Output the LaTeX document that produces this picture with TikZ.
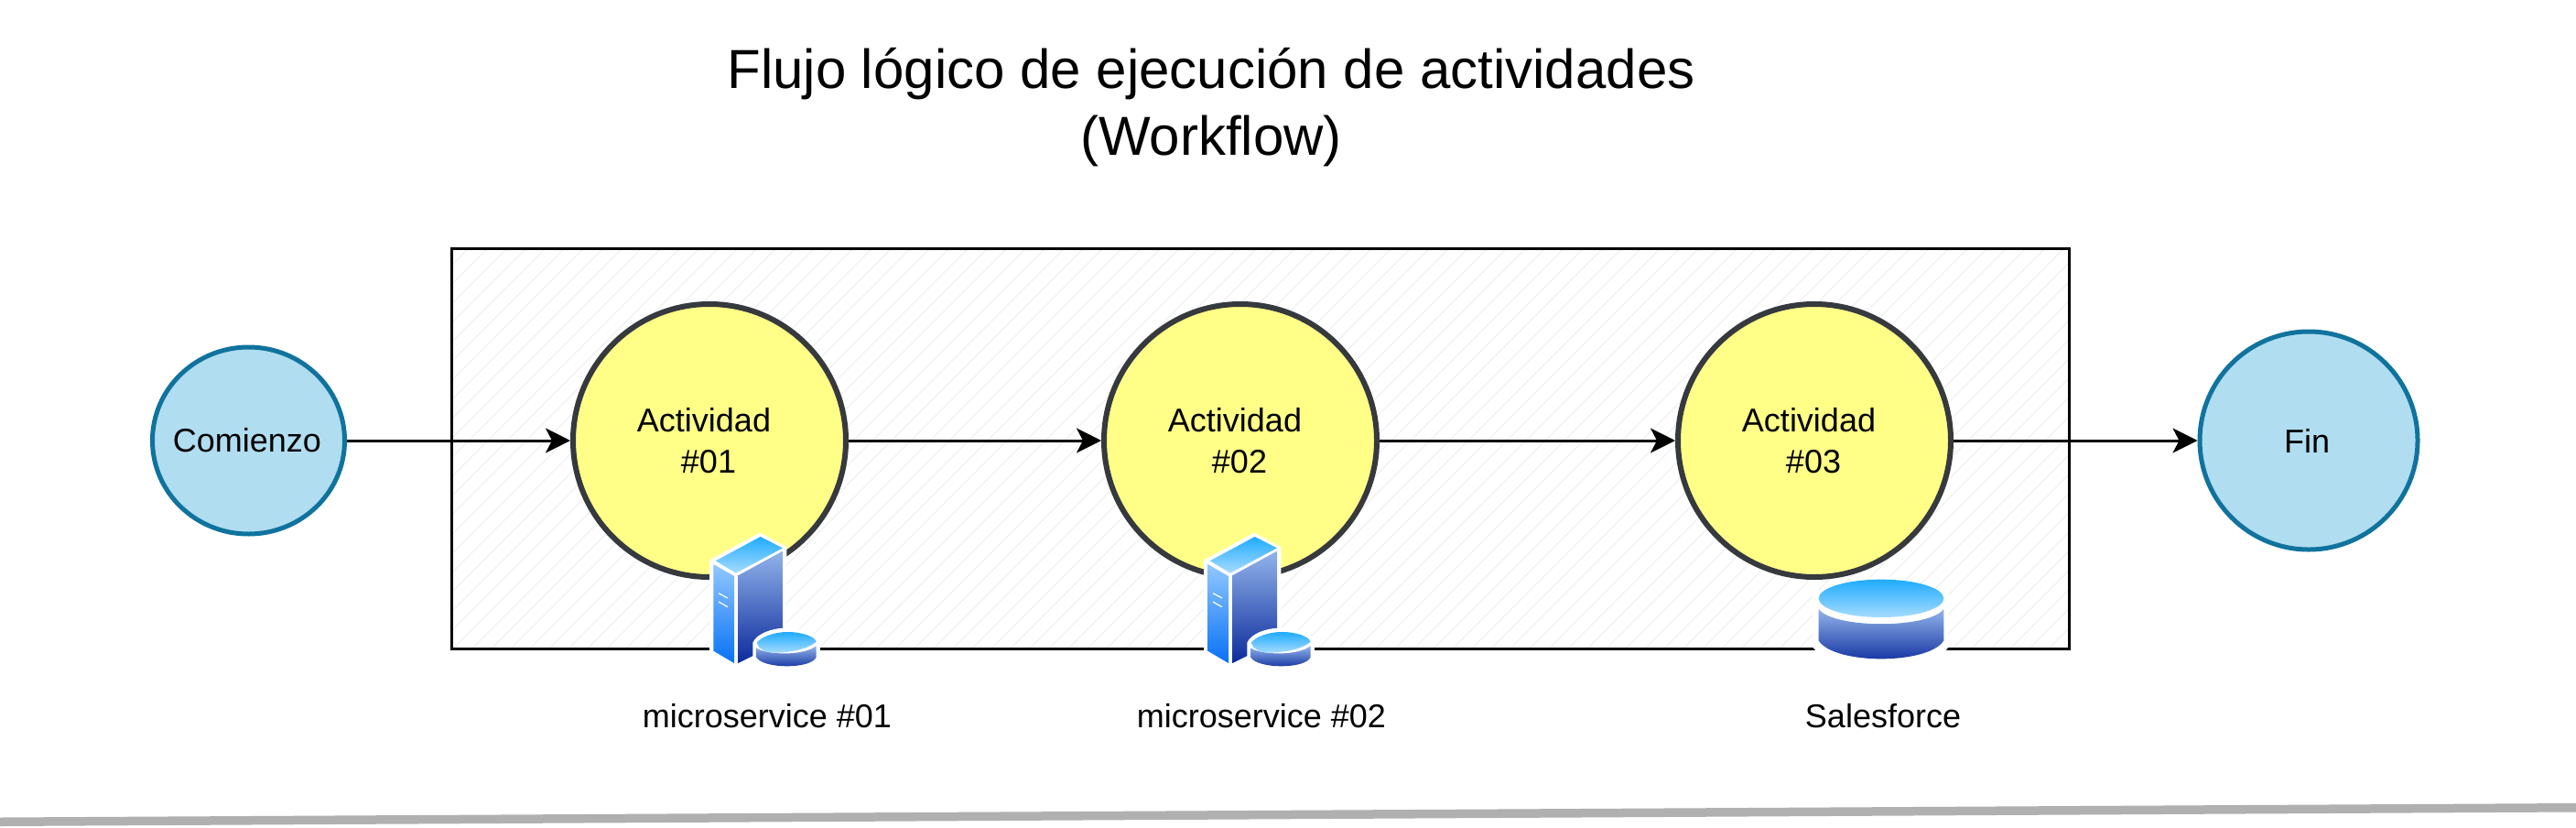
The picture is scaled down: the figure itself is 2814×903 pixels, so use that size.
\documentclass[tikz,border=0pt]{standalone}
\usepackage{fontspec}
\setmainfont{Liberation Sans}
\usetikzlibrary{arrows.meta,shapes.geometric}
\definecolor{actfill}{HTML}{FFFF88}
\definecolor{actline}{HTML}{36393D}
\definecolor{endfill}{HTML}{B1DDF0}
\definecolor{endline}{HTML}{10739E}
\definecolor{hatchc}{HTML}{EDEDED}
\definecolor{skyA}{HTML}{20ABFF}
\definecolor{skyB}{HTML}{A5DCFF}
\definecolor{navA}{HTML}{92B4EA}
\definecolor{navB}{HTML}{0B2A9C}
\definecolor{leftA}{HTML}{92C8FF}
\definecolor{leftB}{HTML}{0871F5}
\tikzset{
  actcircle/.style={circle,draw=actline,fill=actfill,line width=6pt,minimum size=298pt,inner sep=0pt},
  endcircle/.style={ellipse,draw=endline,fill=endfill,line width=5pt,inner sep=0pt},
  flow/.style={draw=black,line width=3pt,-{Stealth[length=27pt,width=27pt,inset=7pt]}},
  lbl/.style={font=\fontsize{36}{45}\selectfont,text=black,inner sep=0pt,align=center},
}
\newcommand{\servericon}[2]{%
\begin{scope}[shift={(#1,#2)},x=0.3333pt,y=-0.3333pt]
  \fill[white] (165,155) -- (330,65) -- (418,112) -- (418,378) -- (528,410) -- (528,500) -- (320,505) -- (300,490) -- (250,505) -- (165,458) -- cycle;
  \shade[top color=skyA,bottom color=skyB] (185,157) -- (332,78) -- (405,115) -- (252,197) -- cycle;
  \shade[top color=leftA,bottom color=leftB] (178,168) -- (246,207) -- (246,492) -- (178,452) -- cycle;
  \shade[top color=navA,bottom color=navB] (259,205) -- (405,125) -- (405,420) -- (259,492) -- cycle;
  \draw[white,line width=1.2pt] (195,263) -- (225,279) (195,291) -- (225,308);
  \fill[white] (307,425) .. controls (320,395) and (370,377) .. (417,377) .. controls (480,377) and (530,400) .. (528,430) -- (528,470) -- (515,500) -- (320,500) -- (307,470) -- cycle;
  \shade[top color=navA,bottom color=navB] (318,442) .. controls (350,465) and (470,470) .. (515,436) -- (515,472) .. controls (500,512) and (340,512) .. (318,472) -- cycle;
  \shade[top color=skyA,bottom color=skyB] (320,425) .. controls (335,405) and (380,390) .. (420,390) .. controls (470,390) and (510,405) .. (515,422) .. controls (490,445) and (430,458) .. (380,458) .. controls (350,458) and (325,445) .. (320,425) -- cycle;
\end{scope}}
\begin{document}
\begin{tikzpicture}[x=1pt,y=-1pt]
\useasboundingbox (0,0) rectangle (2814,903);
\fill[white] (0,0) rectangle (2814,903);
% group box
\begin{scope}
  \clip (493,271) rectangle (2261,709);
  \foreach \k in {0,...,125} {
    \draw[hatchc,line width=1pt] (493+\k*21-440,709) -- (493+\k*21,269);
  }
\end{scope}
\node[draw=black,line width=3pt,minimum width=1767pt,minimum height=437pt,inner sep=0pt] (group) at (1377,490) {};
% title
\node[align=center,font=\fontsize{60}{73}\selectfont,text=black,inner sep=0pt] (title) at (1323,117.5) {Flujo lógico de ejecución de actividades\\(Workflow)};
% nodes
\node[endcircle,minimum width=210pt,minimum height=204pt] (start) at (271.5,481) {};
\node[actcircle] (a1) at (775,481) {};
\node[actcircle] (a2) at (1355,481) {};
\node[actcircle] (a3) at (1982,481) {};
\node[endcircle,minimum width=238pt,minimum height=238pt] (finish) at (2522,481) {};
\node[lbl] (tstart) at (270,481) {Comienzo};
\node[lbl] (t1) at ([xshift=-6pt]a1.center) {Actividad\\\hspace*{10pt}\#01};
\node[lbl] (t2) at ([xshift=-6pt]a2.center) {Actividad\\\hspace*{10pt}\#02};
\node[lbl] (t3) at ([xshift=-6pt]a3.center) {Actividad\\\hspace*{10pt}\#03};
\node[lbl] (tfin) at (2520,481) {Fin};
% connectors
\draw[flow] (start) -- (a1);
\draw[flow] (a1) -- (a2);
\draw[flow] (a2) -- (a3);
\draw[flow] (a3) -- (finish);
% icons
\servericon{720}{560}
\servericon{1260}{560}
\begin{scope}[shift={(1940,600)},x=0.3333pt,y=-0.3333pt]
  \fill[white] (120,140) -- (345,85) -- (565,140) -- (565,320) -- (545,345) -- (345,370) -- (145,345) -- (120,320) -- cycle;
  \shade[top color=navA,bottom color=navB] (140,195) .. controls (190,260) and (500,260) .. (550,195) -- (550,298) .. controls (500,378) and (190,378) .. (140,298) -- cycle;
  \shade[top color=skyA,bottom color=skyB] (345,160) ellipse [x radius=205,y radius=62];
\end{scope}
% labels
\node[lbl] (l1) at (838,782) {microservice \#01};
\node[lbl] (l2) at (1378,782) {microservice \#02};
\node[lbl] (l3) at (2057,782) {Salesforce};
% ground line
\fill[black!31] (0,892.5) -- (2814,877) -- (2814,886.5) -- (0,902) -- cycle;
\end{tikzpicture}
\end{document}
